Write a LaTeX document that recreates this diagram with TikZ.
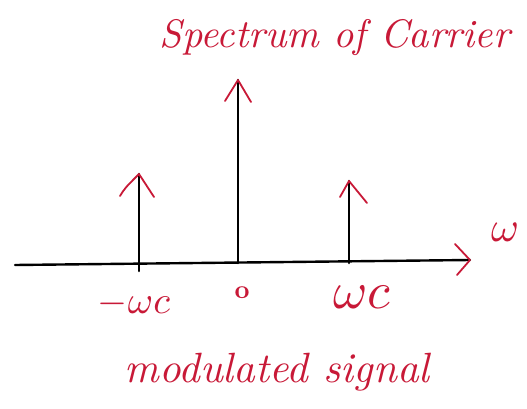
\documentclass[tikz,border=0pt]{standalone}
\usetikzlibrary{calc}
\definecolor{inkred}{RGB}{200,25,55}
\tikzset{
  shaft/.style={line width=2.6pt, black, line cap=round},
  headline/.style={line width=1.8pt, inkred, line cap=round, line join=round},
  redtext/.style={text=inkred, inner sep=0pt}
}
\begin{document}
\begin{tikzpicture}[x=1pt,y=-1pt]
\useasboundingbox (0,0) rectangle (527,409);
% axis
\coordinate (axL) at (15,265);
\coordinate (axR) at (470,260);
\draw[shaft, line width=2.4pt] (axL) -- (axR);
\draw[headline] ($(axR)+(-15,-16)$) -- (axR) -- ($(axR)+(-13,15)$);
% impulses
\coordinate (b1) at (139,271); \coordinate (t1) at (139,174);
\coordinate (b2) at (238,263); \coordinate (t2) at (238,80);
\coordinate (b3) at (349,263); \coordinate (t3) at (349,181);
\draw[shaft] (b1) -- (t1);
\draw[shaft] (b2) -- (t2);
\draw[shaft] (b3) -- (t3);
\draw[headline] ($(t1)+(-19,22)$) .. controls ($(t1)+(-14,14)$) .. (t1) -- ($(t1)+(15,23)$);
\draw[headline] ($(t2)+(-13,21)$) -- (t2) -- ($(t2)+(13,22)$);
\draw[headline] ($(t3)+(-9,16)$) -- (t3) -- ($(t3)+(18,22)$);
% labels
\node[redtext] (title) at (335,38) {\resizebox{350pt}{!}{\itshape Spectrum of Carrier}};
\node[redtext] (omega) at (505,232) {\resizebox{28pt}{!}{$\omega$}};
\node[redtext] (lm) at (134,304) {\resizebox{72pt}{!}{$-\omega c$}};
\node[redtext] (lz) at (242,293) {\resizebox{15pt}{!}{\bfseries o}};
\node[redtext] (lp) at (362,297) {\resizebox{57pt}{!}{$\omega c$}};
\node[redtext] (sub) at (277,372) {\resizebox{305pt}{!}{\itshape modulated signal}};
\end{tikzpicture}
\end{document}
